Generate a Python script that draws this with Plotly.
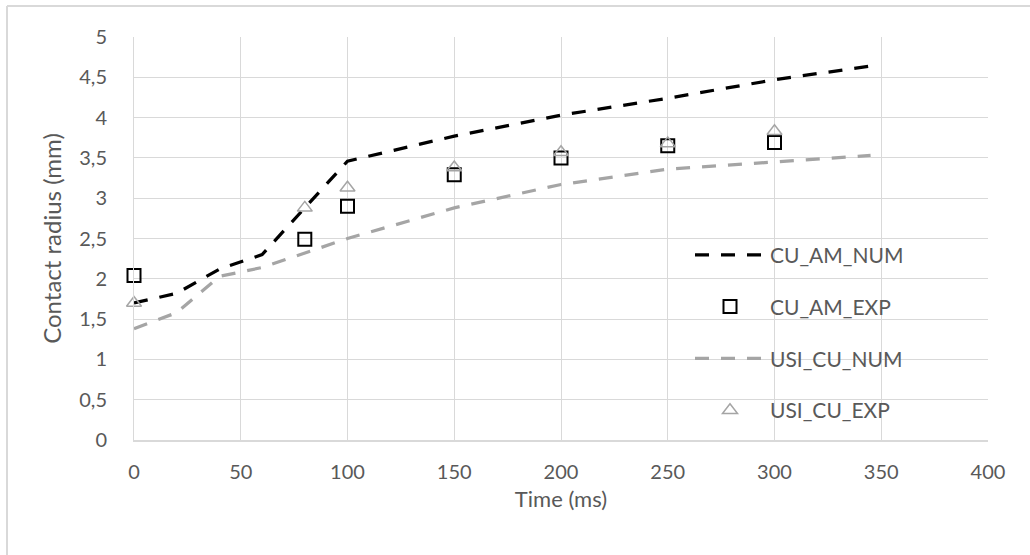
import plotly.graph_objects as go

# Numerical contact radius curves (ms, mm)
time_num = [0, 20, 40, 60, 100, 150, 200, 250, 300, 345]
cu_am_num = [1.70, 1.82, 2.12, 2.30, 3.46, 3.77, 4.03, 4.24, 4.47, 4.64]
usi_cu_num = [1.38, 1.58, 2.03, 2.14, 2.50, 2.88, 3.17, 3.36, 3.45, 3.53]

# Experimental measurements
time_exp = [0, 80, 100, 150, 200, 250, 300]
cu_am_exp = [2.04, 2.49, 2.90, 3.29, 3.50, 3.65, 3.69]
usi_cu_exp = [1.70, 2.88, 3.13, 3.38, 3.57, 3.68, 3.83]

x_ticks = [0, 50, 100, 150, 200, 250, 300, 350, 400]

FONT = "Lato"
TEXT = "#595959"
GRID = "#d9d9d9"
GRAY = "#a5a5a5"

fig = go.Figure()
fig.add_trace(go.Scatter(
    x=time_num, y=cu_am_num, mode="lines", name="CU_AM_NUM",
    legendgroup="a",
    line=dict(color="#000000", width=3.25, dash="14px,12px"),
))
fig.add_trace(go.Scatter(
    x=time_exp, y=cu_am_exp, mode="markers", name="CU_AM_EXP",
    legendgroup="b", cliponaxis=False,
    marker=dict(symbol="square-open", size=13, color="#000000",
                line=dict(width=2, color="#000000")),
))
fig.add_trace(go.Scatter(
    x=time_num, y=usi_cu_num, mode="lines", name="USI_CU_NUM",
    legendgroup="c",
    line=dict(color=GRAY, width=3.25, dash="14px,12px"),
))
fig.add_trace(go.Scatter(
    x=time_exp, y=usi_cu_exp, mode="markers", name="USI_CU_EXP",
    legendgroup="d", cliponaxis=False,
    marker=dict(symbol="triangle-up-open", size=13, color=GRAY,
                line=dict(width=1.5, color=GRAY)),
))

# Chart-area border (left and top edges)
L, T, W, H = 134, 37, 854, 403.7
def px(p):
    return (p - L) / W
def py(p):
    return (T + H - p) / H
border = dict(color=GRID, width=2)
fig.add_shape(type="line", xref="paper", yref="paper",
              x0=px(7), x1=px(7), y0=py(560), y1=py(6), line=border)
fig.add_shape(type="line", xref="paper", yref="paper",
              x0=px(7), x1=px(1040), y0=py(6), y1=py(6), line=border)

fig.update_layout(
    width=1030, height=555,
    margin=dict(l=L, r=1030 - L - W, t=T, b=555 - T - int(H)),
    paper_bgcolor="white", plot_bgcolor="white",
    separators=", ",
    font=dict(family=FONT, color=TEXT, size=20),
    showlegend=True,
    legend=dict(
        x=px(690), y=py(235), xanchor="left", yanchor="top",
        bgcolor="rgba(0,0,0,0)", itemwidth=70,
        tracegroupgap=21.5, font=dict(size=21, color=TEXT),
    ),
    xaxis=dict(
        range=[0, 400], tickvals=x_ticks, showgrid=True, gridcolor=GRID,
        gridwidth=1, zeroline=False, showline=True, linecolor=GRID,
        linewidth=1.5, mirror=False, ticks="", ticklabelstandoff=13,
        tickfont=dict(size=20, color=TEXT),
        title=dict(text="Time (ms)", font=dict(size=22, color=TEXT), standoff=10),
    ),
    yaxis=dict(
        range=[0, 5], dtick=0.5, showgrid=True, gridcolor=GRID,
        gridwidth=1, zeroline=False, showline=True, linecolor=GRID,
        linewidth=1, ticks="", ticklabelstandoff=22,
        tickfont=dict(size=20, color=TEXT),
        title=dict(text="Contact radius (mm)", font=dict(size=24, color=TEXT), standoff=10),
    ),
)

fig.write_html("out.html")
